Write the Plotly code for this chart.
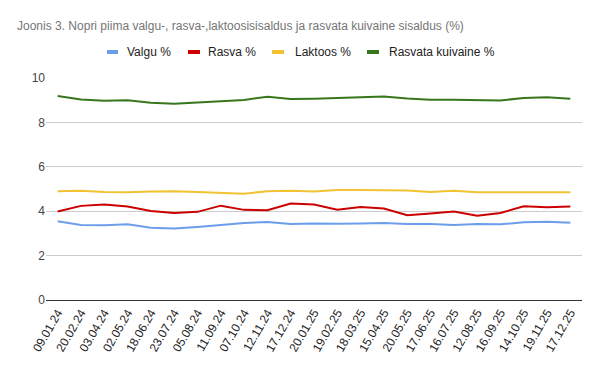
import plotly.graph_objects as go

dates = ["09.01.24", "20.02.24", "03.04.24", "02.05.24", "18.06.24", "23.07.24",
         "05.08.24", "11.09.24", "07.10.24", "12.11.24", "17.12.24", "20.01.25",
         "19.02.25", "18.03.25", "15.04.25", "20.05.25", "17.06.25", "16.07.25",
         "12.08.25", "16.09.25", "14.10.25", "19.11.25", "17.12.25"]

valgu = [3.55, 3.38, 3.37, 3.41, 3.26, 3.22, 3.29, 3.39, 3.47, 3.51, 3.42, 3.45,
         3.43, 3.45, 3.47, 3.42, 3.42, 3.38, 3.42, 3.41, 3.50, 3.53, 3.48]
rasva = [3.99, 4.24, 4.30, 4.21, 4.01, 3.92, 3.97, 4.25, 4.06, 4.04, 4.35, 4.30,
         4.07, 4.19, 4.12, 3.82, 3.90, 3.99, 3.80, 3.92, 4.22, 4.18, 4.21]
laktoos = [4.90, 4.92, 4.87, 4.85, 4.89, 4.90, 4.87, 4.83, 4.79, 4.90, 4.92, 4.89,
           4.96, 4.96, 4.96, 4.93, 4.87, 4.92, 4.85, 4.85, 4.86, 4.85, 4.85]
kuivaine = [9.19, 9.03, 8.98, 9.00, 8.88, 8.84, 8.90, 8.97, 9.01, 9.16, 9.05, 9.07,
            9.11, 9.14, 9.17, 9.08, 9.02, 9.02, 9.01, 8.99, 9.10, 9.13, 9.07]

names = ["Valgu %", "Rasva %", "Laktoos %", "Rasvata kuivaine %"]
colors = ["#6d9eeb", "#cc0000", "#f1c232", "#38761d"]
series = [valgu, rasva, laktoos, kuivaine]
y_ticks = [0, 2, 4, 6, 8, 10]

FONT = "Liberation Sans, Arial, sans-serif"

fig = go.Figure()
for name, col, vals in zip(names, colors, series):
    fig.add_trace(go.Scatter(x=dates, y=vals, name=name, mode="lines",
                             line=dict(color=col, width=2), showlegend=False))

# plot area in pixels
L, R, T, B = 46, 582, 78, 300
W, H = R - L, B - T
def px(xp):
    return (xp - L) / W
def py(yp):
    return (B - yp) / H

shapes = []
annotations = []
LEG_Y = 52
legend_pos = [(107, 118, 125), (188, 200, 206), (272, 284, 293), (367, 379, 387)]
for (x0, x1, xt), name, col in zip(legend_pos, names, colors):
    shapes.append(dict(type="line", xref="paper", yref="paper",
                       x0=px(x0), x1=px(x1), y0=py(LEG_Y), y1=py(LEG_Y),
                       line=dict(color=col, width=4)))
    annotations.append(dict(text=name, xref="paper", yref="paper",
                            x=px(xt), y=py(LEG_Y), xanchor="left", yanchor="middle",
                            showarrow=False, font=dict(family=FONT, size=12, color="#222222")))

fig.update_layout(
    width=600, height=371,
    margin=dict(l=L, r=600 - R, t=T, b=371 - B),
    paper_bgcolor="white", plot_bgcolor="white",
    font=dict(family=FONT, size=12, color="#222222"),
    title=dict(text="Joonis 3. Nopri piima valgu-, rasva-,laktoosisisaldus ja rasvata kuivaine sisaldus (%)",
               x=17 / 600, xref="container", xanchor="left",
               y=1 - 26 / 371, yref="container", yanchor="middle", pad=dict(l=0, r=0, t=0, b=0),
               font=dict(family=FONT, size=12, color="#757575")),
    xaxis=dict(type="category", tickangle=-60, showgrid=False, showline=True,
               linecolor="#333333", linewidth=1, ticks="", automargin=False,
               tickfont=dict(family=FONT, size=12, color="#222222"),
               range=[-0.5, len(dates) - 0.5]),
    yaxis=dict(range=[0, 10], tickvals=y_ticks, showgrid=True, gridcolor="#cccccc",
               gridwidth=1, zeroline=False, showline=False, ticks="", automargin=False,
               tickfont=dict(family=FONT, size=12, color="#444444")),
    shapes=shapes, annotations=annotations,
)

fig.write_html("out.html", config={"displayModeBar": False},
               post_script="document.body.style.margin='0';")
